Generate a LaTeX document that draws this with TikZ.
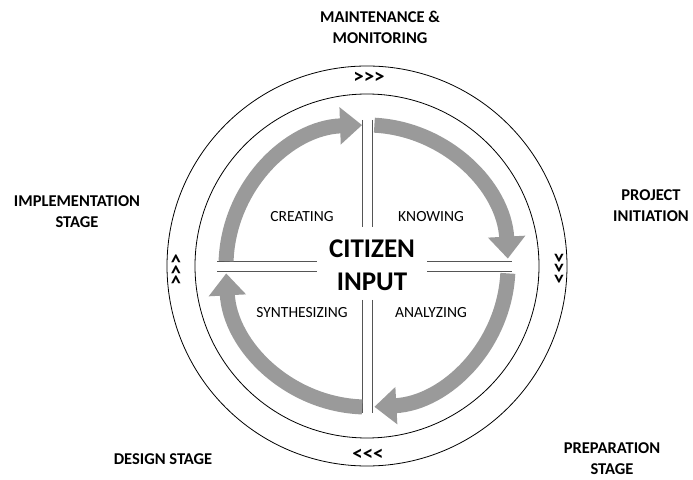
\documentclass[tikz,border=0pt]{standalone}
\usepackage{fontspec}
\setmainfont{Carlito}
\usepackage{tikz}
\usetikzlibrary{arrows.meta,calc,positioning}
\definecolor{band}{HTML}{9A9A9A}
\definecolor{rule}{HTML}{555555}

\begin{document}
\begin{tikzpicture}[
      x=1pt, y=1pt,
      stagelabel/.style={align=center, font=\fontsize{16.5}{21}\selectfont\bfseries},
      quadlabel/.style={font=\fontsize{15.5}{18}\selectfont},
      hub/.style={align=center, font=\fontsize{27}{33}\selectfont\bfseries},
      chev/.style={font=\fontsize{21}{21}\selectfont\bfseries, inner sep=0pt},
      ring/.style={draw, line width=0.8pt},
      cross/.style={draw=rule, line width=0.7pt},
      flow/.style={draw=band, line width=15pt, -{Triangle[width=36pt, length=22pt]}}
  ]
    \useasboundingbox (0,0) rectangle (693,479);
    \coordinate (c) at (367,213);

    % rings
    \draw[ring] (c) circle[radius=200];
    \draw[ring] (c) circle[radius=172];

    % cross of double rules
    \coordinate (hl) at ($(c)+(-150,0)$);
    \coordinate (hlm) at ($(c)+(-50,0)$);
    \coordinate (hrm) at ($(c)+(60,0)$);
    \coordinate (hr) at ($(c)+(145,0)$);
    \coordinate (vt) at ($(c)+(0,146)$);
    \coordinate (vtm) at ($(c)+(0,39)$);
    \coordinate (vbm) at ($(c)+(0,-34)$);
    \coordinate (vb) at ($(c)+(0,-147)$);
    \foreach \d in {-5,5}{
      \draw[cross] ($(hl)+(0,\d)$) -- ($(hlm)+(0,\d)$);
      \draw[cross] ($(hrm)+(0,\d)$) -- ($(hr)+(0,\d)$);
      \draw[cross] ($(vt)+(\d,0)$) -- ($(vtm)+(\d,0)$);
      \draw[cross] ($(vbm)+(\d,0)$) -- ($(vb)+(\d,0)$);
    }

    % clockwise arrows
    \draw[flow] ($(c)+(178:141)$) arc[start angle=178, end angle=92, radius=141];
    \draw[flow] ($(c)+(87:141)$) arc[start angle=87, end angle=3, radius=141];
    \draw[flow] ($(c)+(-3:141)$) arc[start angle=-3, end angle=-87, radius=141];
    \draw[flow] ($(c)+(-92:141)$) arc[start angle=-92, end angle=-177, radius=141];

    % centre and quadrants
    \node[hub] (input) at (372,213.5) {CITIZEN\\INPUT};
    \node[quadlabel] (creating) at (302,262) {CREATING};
    \node[quadlabel] (knowing) at (431,262) {KNOWING};
    \node[quadlabel] (synth) at (302,166) {SYNTHESIZING};
    \node[quadlabel] (analyzing) at (431,166) {ANALYZING};

    % chevrons on the ring
    \node[chev] (chevT) at (369,401) {>{}>{}>};
    \node[chev, rotate=-90] (chevR) at (558,211) {>{}>{}>};
    \node[chev] (chevB) at (368,24) {<{}<{}<};
    \node[chev, rotate=90] (chevL) at (177,209) {>{}>{}>};

    % stages
    \node[stagelabel] (maint) at (380,451.5) {MAINTENANCE \&\\MONITORING};
    \node[stagelabel] (init) at (651,273.5) {PROJECT\\INITIATION};
    \node[stagelabel] (prep) at (612,20) {PREPARATION\\STAGE};
    \node[stagelabel] (design) at (163,20) {DESIGN STAGE};
    \node[stagelabel] (impl) at (77,267) {IMPLEMENTATION\\STAGE};
\end{tikzpicture}
\end{document}
